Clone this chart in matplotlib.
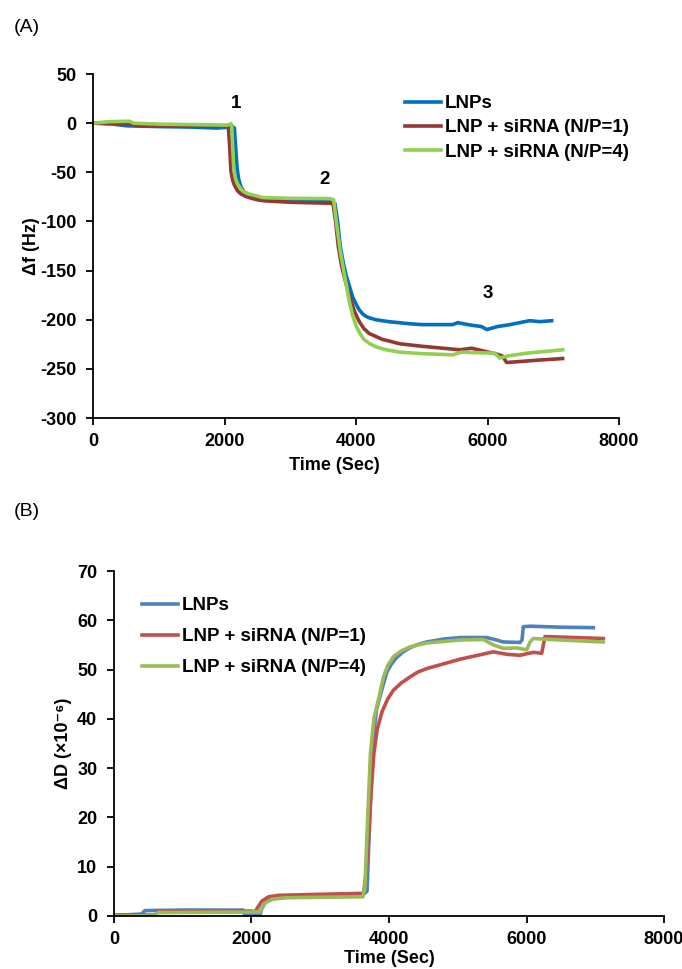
import numpy as np
import matplotlib
matplotlib.use("Agg")
from matplotlib import pyplot as plt

plt.rcParams['font.family'] = ['Liberation Sans', 'DejaVu Sans']
plt.rcParams['font.weight'] = 'bold'
plt.rcParams['axes.unicode_minus'] = False

# frequency shift, panel A
t_lnp_f = [0, 300, 515, 1000, 1500, 1884, 2080, 2110, 2150, 2170, 2190, 2215, 2250, 2300, 2400,
           2500, 2600, 3000, 3600, 3680, 3720, 3760, 3800, 3850, 3900, 3950, 4000, 4050, 4100,
           4150, 4200, 4300, 4500, 4800, 5000, 5470, 5550, 5700, 5910, 5990, 6150, 6340, 6640,
           6800, 6976]
f_lnp = [0, -1, -2.7, -3.5, -4, -5, -4, -3, -5, -25, -45, -57, -65, -70, -74,
         -76, -77, -78.5, -80, -82, -100, -125, -140, -155, -166, -177, -184, -190, -194,
         -196.5, -198, -200, -202, -204, -205, -205, -203, -205, -207, -210, -207, -205, -201,
         -202, -201]

t_np1_f = [0, 300, 600, 650, 1000, 2050, 2060, 2080, 2097, 2120, 2150, 2200, 2250, 2320, 2386,
           2500, 2600, 3000, 3600, 3650, 3690, 3730, 3780, 3855, 3920, 3980, 4050, 4120, 4200,
           4300, 4400, 4550, 4666, 5000, 5578, 5760, 5950, 6140, 6230, 6290, 6400, 6800, 7143]
f_np1 = [0, 0, -1, -2.5, -2.5, -3, -5, -25, -48, -57, -63, -69, -72, -74.5, -76,
         -78, -79, -80.5, -81.5, -82, -100, -125, -145, -165, -180, -192, -202, -209, -214,
         -217, -220, -222.5, -224.5, -227, -230.6, -229, -232, -235, -237, -243.5, -243, -241, -239.5]

t_np4_f = [0, 250, 550, 620, 1000, 2050, 2100, 2110, 2125, 2143, 2170, 2200, 2250, 2300, 2360,
           2432, 2584, 3000, 3602, 3660, 3700, 3760, 3840, 3900, 3950, 4000, 4060, 4120, 4200,
           4300, 4450, 4666, 5000, 5471, 5608, 5800, 6109, 6185, 6300, 6600, 7143]
f_np4 = [0, 1.5, 2, 0, -1, -2, -0.5, -3, -25, -48, -57, -62, -67, -70, -72,
         -73, -75.8, -76.5, -76.8, -78, -100, -130, -160, -182, -196, -206, -214, -220, -224,
         -227.5, -230.5, -233, -234.5, -235.7, -233, -233.5, -234, -239, -237, -234, -230.6]

# dissipation shift, panel B
t_lnp_d = [0, 400, 450, 1000, 1880, 1900, 2120, 2150, 2200, 2300, 2500, 3000, 3600, 3680, 3720,
           3760, 3820, 3917, 3970, 4030, 4100, 4206, 4300, 4400, 4548, 4800, 5033, 5421, 5566,
           5663, 5905, 5935, 5953, 6051, 6500, 6972]
d_lnp = [0.1, 0.4, 1.1, 1.2, 1.2, 0.2, 0.2, 1.5, 2.8, 3.5, 3.8, 3.9, 4.1, 5, 20,
         35, 42, 47, 49.5, 51, 52.3, 53.6, 54.4, 55, 55.6, 56.2, 56.5, 56.5, 56,
         55.6, 55.5, 56, 58.7, 58.8, 58.6, 58.5]

t_np1_d = [0, 600, 650, 2000, 2050, 2080, 2150, 2250, 2400, 3000, 3630, 3660, 3700, 3740, 3780,
           3830, 3900, 3980, 4063, 4180, 4305, 4420, 4548, 5033, 5518, 5712, 5905, 6099, 6221,
           6269, 6700, 7117]
d_np1 = [0.2, 0.2, 0.9, 1.0, 0.8, 1.5, 3.0, 3.9, 4.2, 4.4, 4.6, 8, 15, 25, 33,
         38, 41.5, 44, 45.8, 47.3, 48.5, 49.5, 50.2, 52.1, 53.6, 53.1, 52.9, 53.5, 53.3,
         56.7, 56.5, 56.3]

t_np4_d = [0, 600, 640, 2000, 2120, 2180, 2300, 2500, 3000, 3620, 3650, 3690, 3730, 3780, 3869,
           3920, 3980, 4063, 4180, 4305, 4548, 5033, 5372, 5518, 5663, 5857, 6003, 6051, 6099,
           6487, 7117]
d_np4 = [0, 0, 0.7, 0.8, 0.8, 2.5, 3.4, 3.7, 3.8, 3.9, 6, 20, 33, 40, 45.3,
         48.5, 50.8, 52.6, 53.8, 54.6, 55.4, 56, 56.1, 55, 54.3, 54.4, 54.0, 55.6, 56.3,
         56, 55.6]

labels = ['LNPs', 'LNP + siRNA (N/P=1)', 'LNP + siRNA (N/P=4)']
cols_a = ['#0070C0', '#953735', '#92D050']
cols_b = ['#4F81BD', '#C0504D', '#9BBB59']

fs = 13
fs_leg = 13.5
W, H = 682, 969
fig = plt.figure(figsize=(W / 100, H / 100), dpi=100)

def style(ax):
    for s in ['top', 'right']:
        ax.spines[s].set_visible(False)
    for s in ['left', 'bottom']:
        ax.spines[s].set_linewidth(1.3)
    ax.tick_params(direction='out', length=5, width=1.3, labelsize=fs)
    ax.tick_params(axis='y', pad=7)
    ax.tick_params(axis='x', pad=6)
    for lab in ax.get_xticklabels() + ax.get_yticklabels():
        lab.set_fontweight('bold')

leg_kw = dict(bbox_transform=fig.transFigure, loc='upper left', frameon=False, fontsize=fs_leg,
              handlelength=1.9, handletextpad=0.22, borderpad=0, borderaxespad=0)

# panel A
axA = fig.add_axes([93 / W, 1 - 418 / H, (619 - 93) / W, (418 - 74) / H])
for t, v, c, lab in zip([t_lnp_f, t_np1_f, t_np4_f], [f_lnp, f_np1, f_np4], cols_a, labels):
    axA.plot(t, v, color=c, lw=2.6, label=lab, solid_joinstyle='round')
axA.set_xlim(0, 8000)
axA.set_ylim(-300, 50)
axA.set_xticks(np.arange(0, 8001, 2000))
axA.set_yticks(np.arange(-300, 51, 50))
style(axA)
axA.set_xlabel('Time (Sec)', fontsize=fs, fontweight='bold')
axA.xaxis.set_label_coords(0.458, -0.113)
axA.set_ylabel('Δf (Hz)', fontsize=fs, fontweight='bold')
axA.yaxis.set_label_coords(-0.10, 0.5)
for txt, tx, ty in [('1', 2174, 20), ('2', 3527, -57), ('3', 6005, -173)]:
    axA.text(tx, ty, txt, fontsize=fs_leg, fontweight='bold', ha='center', va='center')
axA.legend(bbox_to_anchor=(405 / W, 1 - 95 / H), labelspacing=0.38, **leg_kw)

# panel B
axB = fig.add_axes([114 / W, 1 - 916 / H, (664 - 114) / W, (916 - 571) / H])
for t, v, c, lab in zip([t_lnp_d, t_np1_d, t_np4_d], [d_lnp, d_np1, d_np4], cols_b, labels):
    axB.plot(t, v, color=c, lw=2.6, label=lab, solid_joinstyle='round')
axB.set_xlim(0, 8000)
axB.set_ylim(0, 70)
axB.set_xticks(np.arange(0, 8001, 2000))
axB.set_yticks(np.arange(0, 71, 10))
style(axB)
axB.set_xlabel('Time (Sec)', fontsize=fs, fontweight='bold')
axB.xaxis.set_label_coords(0.5, -0.099)
axB.set_ylabel('ΔD (×10⁻⁶)', fontsize=fs, fontweight='bold')
axB.yaxis.set_label_coords(-0.076, 0.5)
axB.legend(bbox_to_anchor=(142 / W, 1 - 597 / H), labelspacing=0.75, **leg_kw)

fig.text(27 / W, 1 - 28 / H, '(A)', fontsize=14, fontweight='normal', ha='center', va='center')
fig.text(27 / W, 1 - 512 / H, '(B)', fontsize=14, fontweight='normal', ha='center', va='center')

fig.savefig('out.png', dpi=100)
